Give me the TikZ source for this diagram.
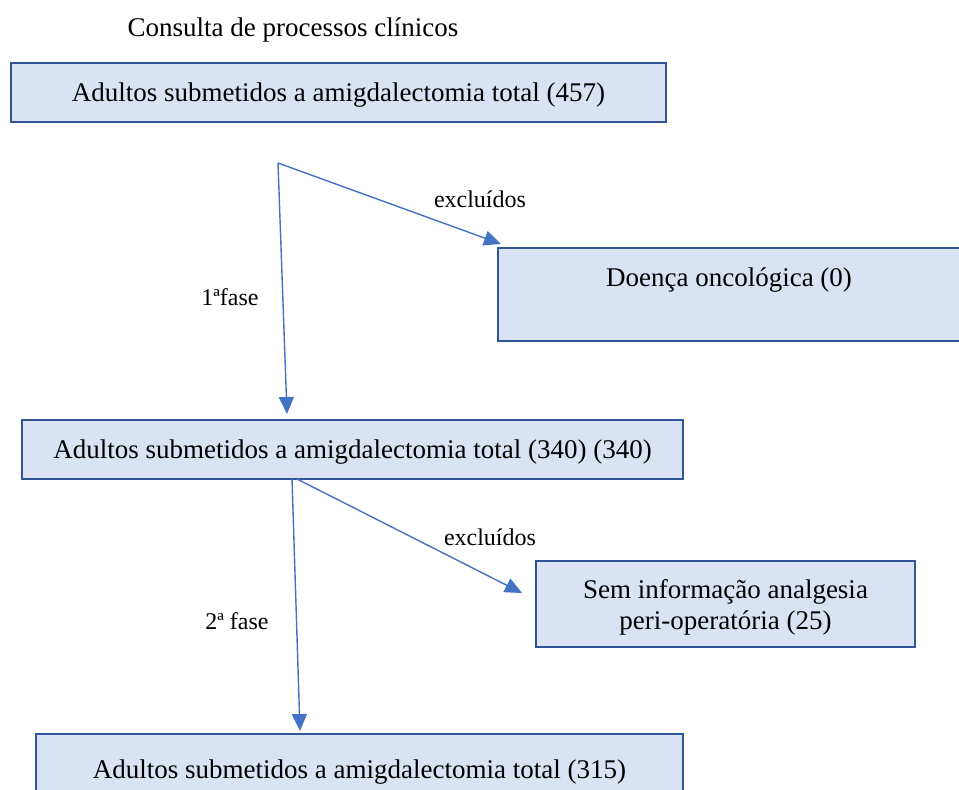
\documentclass[tikz,border=0pt]{standalone}
\usepackage{fontspec}
\setmainfont{Liberation Serif}
\usetikzlibrary{arrows.meta}
\definecolor{boxfill}{HTML}{DAE3F3}
\definecolor{boxline}{HTML}{2F5597}
\definecolor{arrowc}{HTML}{4472C4}
\begin{document}
\begin{tikzpicture}[x=1pt,y=-1pt,
  box/.style={draw=boxline, fill=boxfill, line width=2.2pt, rectangle, inner sep=0pt, text depth=0pt, font=\fontsize{27}{33}\selectfont},
  txt/.style={inner sep=0pt, font=\fontsize{27}{33}\selectfont},
  lbl/.style={inner sep=0pt, font=\fontsize{24}{28}\selectfont},
  conn/.style={draw=arrowc, line width=1.4pt, -{Triangle[length=17pt,width=15pt]}}]
\useasboundingbox (0,0) rectangle (959,790);
\clip (0,0) rectangle (959,790);
\node[txt] (title) at (293,30) {Consulta de processos clínicos};
\node[box, minimum width=655pt, minimum height=59pt] (top) at (338.5,92.5) {Adultos submetidos a amigdalectomia total (457)};
\node[box, minimum width=467pt, minimum height=93pt] (onco) at (731.5,294.5) {};
\node[txt] (oncot) at (729,280) {Doença oncológica (0)};
\node[box, minimum width=661pt, minimum height=59pt] (mid) at (352.5,449.5) {Adultos submetidos a amigdalectomia total (340) (340)};
\node[box, minimum width=379pt, minimum height=86pt, align=center] (sem) at (725.5,604) {\raisebox{-2pt}{Sem informação analgesia}\\peri-operatória (25)};
\node[box, minimum width=647pt, minimum height=70pt] (bot) at (359.5,769) {Adultos submetidos a amigdalectomia total (315)};
\coordinate (j1) at (278,163);
\coordinate (t1) at (287,414);
\coordinate (t2) at (501,244);
\coordinate (s3) at (292,479);
\coordinate (t3) at (300,731);
\coordinate (s4) at (297,479);
\coordinate (t4) at (522,593);
\draw[conn] (j1) -- (t1);
\draw[conn] (j1) -- (t2);
\draw[conn] (s3) -- (t3);
\draw[conn] (s4) -- (t4);
\node[lbl] (l1) at (480,199) {excluídos};
\node[lbl] (l2) at (230,297) {1ªfase};
\node[lbl] (l3) at (490,537) {excluídos};
\node[lbl] (l4) at (237,621) {2ª fase};
\end{tikzpicture}
\end{document}
